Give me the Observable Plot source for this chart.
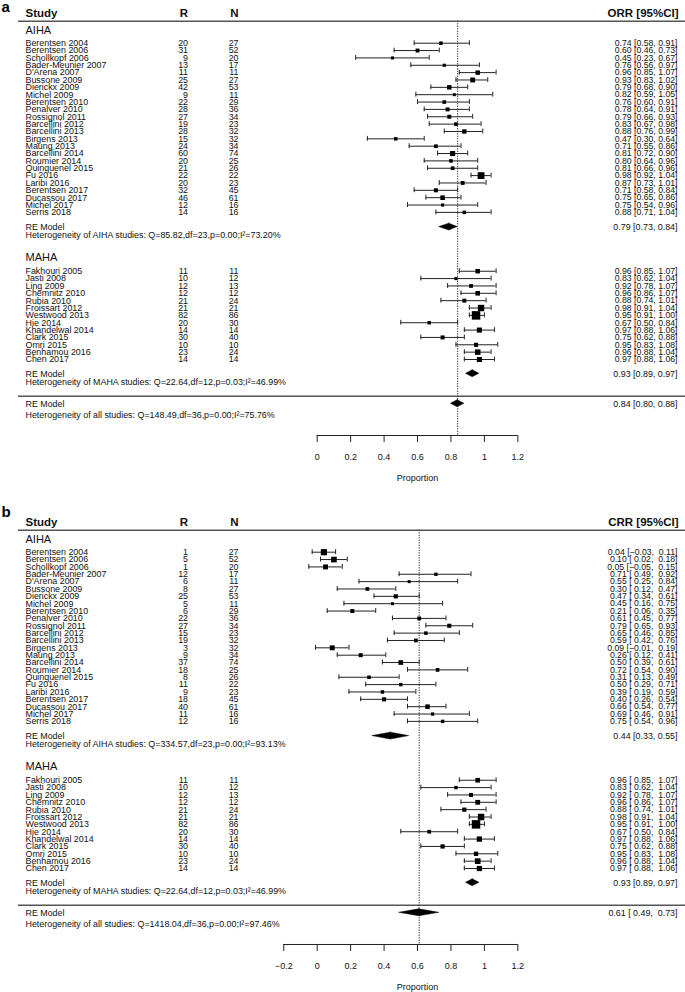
<!DOCTYPE html>
<html><head><meta charset="utf-8">
<script src="https://cdn.jsdelivr.net/npm/d3@7"></script>
<script src="https://cdn.jsdelivr.net/npm/@observablehq/plot@0.6"></script>
<style>
body{margin:0;background:#fff;}
#chart svg{display:block;overflow:visible;}
</style></head><body><div id="chart"></div>
<script>
// ---------- data ----------
const aihaStudies = ["Berentsen 2004","Berentsen 2006","Schollkopf 2006","Bader-Meunier 2007","D'Arena 2007","Bussone 2009","Dierickx 2009","Michel 2009","Berentsen 2010","Penalver 2010","Rossignol 2011","Barcellini 2012","Barcellini 2013","Birgens 2013","Maung 2013","Barcellini 2014","Roumier 2014","Quinquenel 2015","Fu 2016","Laribi 2016","Berentsen 2017","Ducassou 2017","Michel 2017","Serris 2018"];
const aihaN = [27,52,20,17,11,27,53,11,29,36,34,23,32,32,34,74,25,26,22,23,45,61,16,16];
const aihaR_ORR = [20,31,9,13,11,25,42,9,22,28,27,19,28,15,24,60,20,21,22,20,32,46,12,14];
const aihaORR   = [0.74,0.60,0.45,0.76,0.96,0.93,0.79,0.82,0.76,0.78,0.79,0.83,0.88,0.47,0.71,0.81,0.80,0.81,0.98,0.87,0.71,0.75,0.75,0.88];
const aihaORRlo = [0.58,0.46,0.23,0.56,0.85,0.83,0.68,0.59,0.60,0.64,0.66,0.67,0.76,0.30,0.55,0.72,0.64,0.66,0.92,0.73,0.58,0.65,0.54,0.71];
const aihaORRhi = [0.91,0.73,0.67,0.97,1.07,1.02,0.90,1.05,0.91,0.91,0.93,0.98,0.99,0.64,0.86,0.90,0.96,0.96,1.04,1.01,0.84,0.86,0.96,1.04];
const aihaR_CRR = [1,5,1,12,6,8,25,5,6,22,27,15,19,3,9,37,18,8,11,9,18,40,11,12];
const aihaCRR   = [0.04,0.10,0.05,0.71,0.55,0.30,0.47,0.45,0.21,0.61,0.79,0.65,0.59,0.09,0.26,0.50,0.72,0.31,0.50,0.39,0.40,0.66,0.69,0.75];
const aihaCRRlo = [-0.03,0.02,-0.05,0.49,0.25,0.12,0.34,0.16,0.06,0.45,0.65,0.46,0.42,-0.01,0.12,0.39,0.54,0.13,0.29,0.19,0.26,0.54,0.46,0.54];
const aihaCRRhi = [0.11,0.18,0.15,0.92,0.84,0.47,0.61,0.75,0.35,0.77,0.93,0.85,0.76,0.19,0.41,0.61,0.90,0.49,0.71,0.59,0.54,0.77,0.91,0.96];

const mahaStudies = ["Fakhouri 2005","Jasti 2008","Ling 2009","Chemnitz 2010","Rubia 2010","Froissart 2012","Westwood 2013","Hie 2014","Khandelwal 2014","Clark 2015","Omri 2015","Benhamou 2016","Chen 2017"];
const mahaR  = [11,10,12,12,21,21,82,20,14,30,10,23,14];
const mahaN  = [11,12,13,12,24,21,86,30,14,40,10,24,14];
const mahaEst = [0.96,0.83,0.92,0.96,0.88,0.98,0.95,0.67,0.97,0.75,0.95,0.96,0.97];
const mahaLo  = [0.85,0.62,0.78,0.86,0.74,0.91,0.91,0.50,0.88,0.62,0.83,0.88,0.88];
const mahaHi  = [1.07,1.04,1.07,1.07,1.01,1.04,1.00,0.84,1.06,0.88,1.08,1.04,1.06];

const reAihaORR = [0.79,0.73,0.84];
const reMahaORR = [0.93,0.89,0.97];
const reAllORR  = [0.84,0.80,0.88];
const reAihaCRR = [0.44,0.33,0.55];
const reMahaCRR = [0.93,0.89,0.97];
const reAllCRR  = [0.61,0.49,0.73];

const hetA = ["Heterogeneity of AIHA studies: Q=85.82,df=23,p=0.00;I\u00B2=73.20%",
              "Heterogeneity of MAHA studies: Q=22.64,df=12,p=0.03;I\u00B2=46.99%",
              "Heterogeneity of all studies: Q=148.49,df=36,p=0.00;I\u00B2=75.76%"];
const hetB = ["Heterogeneity of AIHA studies: Q=334.57,df=23,p=0.00;I\u00B2=93.13%",
              "Heterogeneity of MAHA studies: Q=22.64,df=12,p=0.03;I\u00B2=46.99%",
              "Heterogeneity of all studies: Q=1418.04,df=36,p=0.00;I\u00B2=97.46%"];
const ticksA = [0,0.2,0.4,0.6,0.8,1,1.2];
const ticksB = [-0.2,0,0.2,0.4,0.6,0.8,1,1.2];

// ---------- layout (pixels / row units) ----------
const W = 685, FONT = "Liberation Sans, Arial, Helvetica, sans-serif";
const X0PX = 316.7, KPX = 167.2, MLEFT = 18;      // x(0) and px per unit
const Y0PX = 42.7, ROWH = 7.356;                  // row 0 centre and px per row
const ROW = {head:-4.04, headLine:-2.99, aiha:-1.73, reA:25, hetA:26.1, maha:29.17, mahaStart:31,
             reM:44.94, hetM:46.09, sep:47.99, reAll:49.02, hetAll:50.52, axis:53.33, tickLab:56.3, xlab:59.15};
const INK = "#111";

const fmt = d3.format(".2f");
function ci(e, lo, hi, pad) {
  const f = v => (pad && v >= 0 ? " " : "") + fmt(v);
  return fmt(e) + " [" + f(lo) + ", " + f(hi) + "]";
}

function panel({letter, letterRow, colLabel, rA, est, lo, hi, reA, reM, reAll, het, ticks, H, top}) {
  const pad = lo.some(v => v < 0);
  const studies = [];
  aihaStudies.forEach((s, i) => studies.push({name:s, r:rA[i], n:aihaN[i], e:est[i], lo:lo[i], hi:hi[i], row:i}));
  mahaStudies.forEach((s, i) => studies.push({name:s, r:mahaR[i], n:mahaN[i], e:mahaEst[i], lo:mahaLo[i], hi:mahaHi[i], row:ROW.mahaStart + i}));
  studies.forEach(d => { d.w = 3.92 / (d.hi - d.lo); d.ci = ci(d.e, d.lo, d.hi, pad); });
  const wmin = d3.min(studies, d => d.w), wmax = d3.max(studies, d => d.w);
  studies.forEach(d => { const side = 3 + 5.5 * (d.w - wmin) / (wmax - wmin); d.rad = side / Math.sqrt(Math.PI); });

  const summaries = [
    {row:ROW.reA, v:reA, pad:false}, {row:ROW.reM, v:reM, pad:false}, {row:ROW.reAll, v:reAll, pad:pad}
  ].map((d, i) => ({...d, id:i, label: ci(d.v[0], d.v[1], d.v[2], d.pad)}));
  const h = 0.47;
  const diamonds = summaries.flatMap(d => [
    {id:d.id, y:d.row - h, x1:d.v[0], x2:d.v[0]},
    {id:d.id, y:d.row, x1:d.v[1], x2:d.v[2]},
    {id:d.id, y:d.row + h, x1:d.v[0], x2:d.v[0]}]);

  const leftTexts = [
    {row:ROW.aiha, t:"AIHA", size:11},
    {row:ROW.reA, t:"RE Model", size:8.9}, {row:ROW.hetA, t:het[0], size:8.9},
    {row:ROW.maha, t:"MAHA", size:11},
    {row:ROW.reM, t:"RE Model", size:8.9}, {row:ROW.hetM, t:het[1], size:8.9},
    {row:ROW.reAll, t:"RE Model", size:8.9}, {row:ROW.hetAll, t:het[2], size:8.9}
  ];
  const x0 = ticks[0], x1 = ticks[ticks.length - 1];
  const tickData = ticks.map(t => ({x:t, y1:ROW.axis, y2:ROW.axis + 0.95, ly:ROW.tickLab, lab:d3.format("~g")(t)}));
  const y0 = Y0PX + top;

  return Plot.plot({
    width: W, height: H,
    marginLeft: MLEFT, marginRight: 0, marginTop: 0, marginBottom: 0,
    x: {domain: [(MLEFT - X0PX) / KPX, (W - X0PX) / KPX], axis: null},
    y: {domain: [-y0 / ROWH, (H - y0) / ROWH], range: [0, H], axis: null},
    r: {type: "linear", domain: [0, 10], range: [0, 10]},
    style: {fontFamily: FONT, background: "#fff", color: INK},
    marks: [
      // panel letter
      Plot.text([{row:letterRow}], {y:"row", frameAnchor:"left", dx:-17, text:() => letter, textAnchor:"start", fontSize:15, fontWeight:"bold", fill:"#000"}),
      // header
      Plot.text([{row:ROW.head}], {y:"row", frameAnchor:"left", dx:7, text:() => "Study", textAnchor:"start", fontSize:11.5, fontWeight:"bold", fill:INK}),
      Plot.text([{row:ROW.head}], {y:"row", frameAnchor:"left", dx:169.5, text:() => "R", textAnchor:"end", fontSize:11.5, fontWeight:"bold", fill:INK}),
      Plot.text([{row:ROW.head}], {y:"row", frameAnchor:"left", dx:220, text:() => "N", textAnchor:"end", fontSize:11.5, fontWeight:"bold", fill:INK}),
      Plot.text([{row:ROW.head}], {y:"row", frameAnchor:"right", dx:-7, text:() => colLabel, textAnchor:"end", fontSize:11.5, fontWeight:"bold", fill:INK}),
      Plot.ruleY([ROW.headLine, ROW.sep], {stroke:"#555", strokeWidth:1.6}),
      // dotted reference line at overall estimate
      Plot.ruleX([{x:reAll[0], y1:ROW.headLine, y2:ROW.axis}], {x:"x", y1:"y1", y2:"y2", stroke:"#222", strokeWidth:1, strokeDasharray:"1.2,1.3"}),
      // left texts
      Plot.text(leftTexts, {y:"row", frameAnchor:"left", dx:7, text:"t", textAnchor:"start", fontSize:"size", fill:INK}),
      Plot.text(studies, {y:"row", frameAnchor:"left", dx:7, text:"name", textAnchor:"start", fontSize:8.9, fill:INK}),
      Plot.text(studies, {y:"row", frameAnchor:"left", dx:169.5, text:"r", textAnchor:"end", fontSize:8.9, fill:INK}),
      Plot.text(studies, {y:"row", frameAnchor:"left", dx:220, text:"n", textAnchor:"end", fontSize:8.9, fill:INK}),
      Plot.text(studies, {y:"row", frameAnchor:"right", dx:-8, text:"ci", textAnchor:"end", fontSize:8.7, fill:INK}),
      Plot.text(summaries, {y:"row", frameAnchor:"right", dx:-8, text:"label", textAnchor:"end", fontSize:8.9, fill:INK}),
      // CIs
      Plot.ruleY(studies, {y:"row", x1:"lo", x2:"hi", stroke:"#222", strokeWidth:1}),
      Plot.ruleX(studies, {x:"lo", y1:d => d.row - 0.33, y2:d => d.row + 0.33, stroke:"#222", strokeWidth:1}),
      Plot.ruleX(studies, {x:"hi", y1:d => d.row - 0.33, y2:d => d.row + 0.33, stroke:"#222", strokeWidth:1}),
      Plot.dot(studies, {x:"e", y:"row", r:"rad", symbol:"square", fill:"#000", stroke:"none"}),
      // summary diamonds
      Plot.areaX(diamonds, {y:"y", x1:"x1", x2:"x2", z:"id", fill:"#000", stroke:"#000", strokeWidth:0.5}),
      // x axis
      Plot.ruleY([{y:ROW.axis, a:x0, b:x1}], {y:"y", x1:"a", x2:"b", stroke:"#222", strokeWidth:1}),
      Plot.ruleX(tickData, {x:"x", y1:"y1", y2:"y2", stroke:"#222", strokeWidth:1}),
      Plot.text(tickData, {x:"x", y:"ly", text:"lab", fontSize:9, fill:INK}),
      Plot.text([{row:ROW.xlab, x:(0 + 1.2) / 2}], {x:"x", y:"row", text:() => "Proportion", fontSize:9, fill:INK})
    ]
  });
}

const chart = document.getElementById("chart");
chart.append(panel({letter:"a", letterRow:-4.85, colLabel:"ORR [95%CI]", rA:aihaR_ORR, est:aihaORR, lo:aihaORRlo, hi:aihaORRhi,
  reA:reAihaORR, reM:reMahaORR, reAll:reAllORR, het:hetA, ticks:ticksA, H:499, top:0}));
chart.append(panel({letter:"b", letterRow:-5.42, colLabel:"CRR [95%CI]", rA:aihaR_CRR, est:aihaCRR, lo:aihaCRRlo, hi:aihaCRRhi,
  reA:reAihaCRR, reM:reMahaCRR, reAll:reAllCRR, het:hetB, ticks:ticksB, H:493, top:10}));
</script></body></html>
